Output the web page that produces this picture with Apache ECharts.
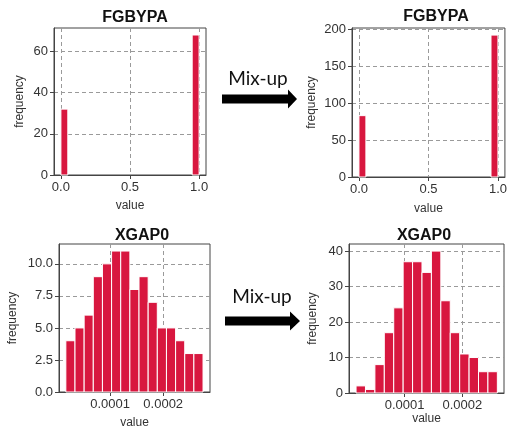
<!DOCTYPE html>
<html>
<head>
<meta charset="utf-8">
<script src="https://cdn.jsdelivr.net/npm/echarts@6.0.0/dist/echarts.min.js"></script>
<style>
  html, body { margin: 0; padding: 0; background: #fff; }
  #chart { width: 510px; height: 430px; }
</style>
</head>
<body>
<div id="chart"></div>
<script>
// histogram counts
var fgOrigCounts = [32, 0, 0, 0, 0, 0, 0, 0, 0, 0, 0, 0, 0, 0, 0, 0, 0, 0, 0, 68]
var fgMixCounts = [83, 0, 0, 0, 0, 0, 0, 0, 0, 0, 0, 0, 0, 0, 0, 0, 0, 0, 0, 192]
var xgOrigCounts = [4, 5, 6, 9, 10, 11, 11, 8, 9, 7, 5, 5, 4, 3, 3]
var xgMixCounts = [2, 1, 8, 17, 24, 37, 37, 34, 40, 26, 17, 11, 10, 6, 6]

// bin edges (start + width)
var fgBinStart = 0
var fgBinWidth = 0.05
var xgOrigBinStart = 0.0000169
var xgOrigBinWidth = 0.0000172
var xgMixBinStart = 0.000016
var xgMixBinWidth = 0.0000163

// tick values
var fgXTicks = [0, 0.5, 1]
var fgOrigYTicks = [0, 20, 40, 60]
var fgMixYTicks = [0, 50, 100, 150, 200]
var xgXTicks = [0.0001, 0.0002]
var xgOrigYTicks = [0, 2.5, 5, 7.5, 10]
var xgMixYTicks = [0, 10, 20, 30, 40]

var barColor = '#d8173f'
var fontFamily = '"Liberation Sans", Arial, sans-serif'

function toBins (counts, start, width) {
  var out = []
  counts.forEach(function (c, i) {
    if (c > 0) out.push([start + i * width, start + (i + 1) * width, c])
  })
  return out
}

function renderBar (params, api) {
  var p0 = api.coord([api.value(0), 0])
  var p1 = api.coord([api.value(1), api.value(2)])
  return {
    type: 'rect',
    shape: { x: p0[0], y: p1[1], width: p1[0] - p0[0], height: p0[1] - p1[1] },
    style: { fill: barColor, stroke: '#ffffff', lineWidth: 1 }
  }
}

function makeAxis (gridIndex, min, max, ticks, fmt, name, nameGap) {
  return {
    type: 'value',
    gridIndex: gridIndex,
    min: min,
    max: max,
    name: name,
    nameLocation: 'middle',
    nameGap: nameGap,
    nameTextStyle: { fontFamily: fontFamily, fontSize: 12, color: '#333' },
    axisLine: { show: true, onZero: false, lineStyle: { color: '#444', width: 1 } },
    axisTick: { show: true, customValues: ticks, length: 4, lineStyle: { color: '#444' } },
    axisLabel: {
      customValues: ticks,
      margin: 6,
      fontFamily: fontFamily,
      fontSize: 13,
      color: '#333',
      formatter: fmt
    },
    splitLine: { show: true, lineStyle: { color: '#9a9a9a', type: [4, 3], width: 1 } }
  }
}

var fmt1 = function (v) { return v.toFixed(1) }
var fmt0 = function (v) { return String(Math.round(v)) }
var fmtSmall = function (v) { return v.toFixed(4) }

var grids = [
  { left: 54, top: 28, width: 152, height: 147 },
  { left: 352, top: 28, width: 154, height: 149 },
  { left: 59, top: 244, width: 151, height: 148 },
  { left: 349, top: 244, width: 155, height: 149 }
]
grids.forEach(function (g) {
  g.show = true
  g.borderColor = '#444'
  g.borderWidth = 1
  g.backgroundColor = 'transparent'
})

function titleAt (text, x, y) {
  return {
    text: text,
    left: x,
    top: y,
    textAlign: 'center',
    textStyle: { fontFamily: fontFamily, fontSize: 16, fontWeight: 'bold', color: '#111' }
  }
}

function arrow (x0, x1, xh, yc, shaftH, headH) {
  return {
    type: 'polygon',
    shape: {
      points: [
        [x0, yc - shaftH / 2], [x1, yc - shaftH / 2], [x1, yc - headH / 2], [xh, yc],
        [x1, yc + headH / 2], [x1, yc + shaftH / 2], [x0, yc + shaftH / 2]
      ]
    },
    style: { fill: '#000' }
  }
}

function mixText (x, y) {
  return {
    type: 'text',
    x: x,
    y: y,
    style: {
      text: 'Mix-up',
      fontFamily: 'Lato, "Open Sans", sans-serif',
      fontSize: 19,
      fill: '#111',
      align: 'center',
      verticalAlign: 'middle'
    }
  }
}

var option = {
  animation: false,
  backgroundColor: '#fff',
  title: [
    titleAt('FGBYPA', 130, 5),
    titleAt('FGBYPA', 431, 4),
    titleAt('XGAP0', 137, 223),
    titleAt('XGAP0', 419, 223)
  ],
  grid: grids,
  xAxis: [
    makeAxis(0, -0.05, 1.05, fgXTicks, fmt1, 'value', 25),
    makeAxis(1, -0.05, 1.05, fgXTicks, fmt1, 'value', 26),
    makeAxis(2, 0.000004, 0.000288, xgXTicks, fmtSmall, 'value', 25),
    makeAxis(3, 0.0000038, 0.000272, xgXTicks, fmtSmall, 'value', 20)
  ],
  yAxis: [
    makeAxis(0, 0, 71.4, fgOrigYTicks, fmt0, 'frequency', 28),
    makeAxis(1, 0, 201.6, fgMixYTicks, fmt0, 'frequency', 34),
    makeAxis(2, 0, 11.55, xgOrigYTicks, fmt1, 'frequency', 40),
    makeAxis(3, 0, 42, xgMixYTicks, fmt0, 'frequency', 30)
  ],
  series: [
    { type: 'custom', xAxisIndex: 0, yAxisIndex: 0, renderItem: renderBar, encode: { x: [0, 1], y: 2 }, data: toBins(fgOrigCounts, fgBinStart, fgBinWidth) },
    { type: 'custom', xAxisIndex: 1, yAxisIndex: 1, renderItem: renderBar, encode: { x: [0, 1], y: 2 }, data: toBins(fgMixCounts, fgBinStart, fgBinWidth) },
    { type: 'custom', xAxisIndex: 2, yAxisIndex: 2, renderItem: renderBar, encode: { x: [0, 1], y: 2 }, data: toBins(xgOrigCounts, xgOrigBinStart, xgOrigBinWidth) },
    { type: 'custom', xAxisIndex: 3, yAxisIndex: 3, renderItem: renderBar, encode: { x: [0, 1], y: 2 }, data: toBins(xgMixCounts, xgMixBinStart, xgMixBinWidth) }
  ],
  graphic: [
    mixText(258, 79),
    arrow(222, 288, 297, 99, 9, 19),
    mixText(262, 297),
    arrow(225, 290, 300, 321, 9, 19)
  ]
}

var myChart = echarts.init(document.getElementById('chart'))
myChart.setOption(option)
</script>
</body>
</html>
